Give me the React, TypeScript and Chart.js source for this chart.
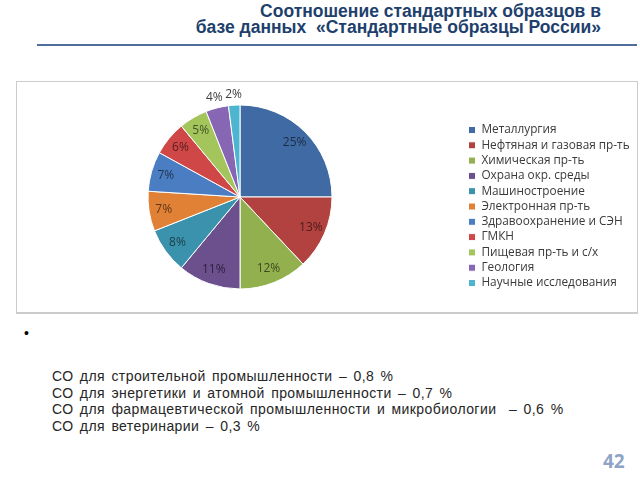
import React, { useEffect, useRef } from "react";
import { Chart, registerables } from "chart.js";

Chart.register(...registerables);

const titleLines = [
  "Соотношение стандартных образцов в",
  "базе данных  «Стандартные образцы России»",
];

const categories = [
  "Металлургия",
  "Нефтяная и газовая пр-ть",
  "Химическая пр-ть",
  "Охрана окр. среды",
  "Машиностроение",
  "Электронная пр-ть",
  "Здравоохранение и СЭН",
  "ГМКН",
  "Пищевая пр-ть и с/х",
  "Геология",
  "Научные исследования",
];

const shares = [25, 13, 12, 11, 8, 7, 7, 6, 5, 4, 2];

const sliceColors = [
  "#3F6AA3",
  "#B2423F",
  "#92B14E",
  "#6C4F8D",
  "#3B92AC",
  "#E08136",
  "#4A7DC2",
  "#CF4747",
  "#A3C55C",
  "#8766B3",
  "#4DB5CF",
];

const notes = [
  "СО для строительной промышленности – 0,8 %",
  "СО для энергетики и атомной промышленности – 0,7 %",
  "СО для фармацевтической промышленности и микробиологии  – 0,6 %",
  "СО для ветеринарии – 0,3 %",
];

const pageNumber = "42";

const LEGEND_FONT_SIZE = 11.8;
const LEGEND_FONT_FAMILY = "'Open Sans'";
const LEGEND_BOX = 7;
const LEGEND_PAD = 3.5;

function darken(hex: string, f: number): string {
  const n = parseInt(hex.slice(1), 16);
  const r = Math.round(((n >> 16) & 255) * f);
  const g = Math.round(((n >> 8) & 255) * f);
  const b = Math.round((n & 255) * f);
  return `rgb(${r},${g},${b})`;
}

const pctLabels = {
  id: "pctLabels",
  afterDatasetsDraw(chart: any) {
    const meta = chart.getDatasetMeta(0);
    const values = chart.data.datasets[0].data as number[];
    const ctx = chart.ctx as CanvasRenderingContext2D;
    ctx.save();
    ctx.font = "12px 'Open Sans'";
    ctx.textAlign = "center";
    ctx.textBaseline = "middle";
    meta.data.forEach((arc: any, i: number) => {
      const p = arc.getProps(["x", "y", "startAngle", "endAngle", "outerRadius"], true);
      const mid = (p.startAngle + p.endAngle) / 2;
      const v = values[i];
      const outside = v < 5;
      const r = p.outerRadius * (outside ? 1.12 : 0.84);
      ctx.fillStyle = outside ? "#404040" : darken(sliceColors[i], 0.42);
      ctx.fillText(v + "%", p.x + Math.cos(mid) * r, p.y + Math.sin(mid) * r);
    });
    ctx.restore();
  },
};

function PieChart() {
  const ref = useRef<HTMLCanvasElement | null>(null);
  useEffect(() => {
    const canvas = ref.current;
    if (!canvas) return;
    // legend natural width (same formula Chart.js uses) so that the legend
    // starts at x=465 and the pie area stays centred at x=240
    const mctx = document.createElement("canvas").getContext("2d")!;
    mctx.font = `${LEGEND_FONT_SIZE}px ${LEGEND_FONT_FAMILY}`;
    let maxText = 0;
    categories.forEach((c) => {
      maxText = Math.max(maxText, mctx.measureText(c).width);
    });
    const legendW = LEGEND_PAD + LEGEND_BOX + LEGEND_FONT_SIZE / 2 + maxText + 10;
    const left = 15;
    const legendLeft = 465;
    const w = Math.ceil(legendLeft - left + legendW);
    const extra = w - (legendLeft - left + legendW);
    canvas.width = w;
    canvas.height = 232;
    canvas.style.width = w + "px";
    canvas.style.height = "232px";

    const chart = new Chart(canvas, {
      type: "pie",
      data: {
        labels: categories,
        datasets: [
          {
            data: shares,
            backgroundColor: sliceColors,
            borderColor: "#ffffff",
            borderWidth: 1,
            radius: 92,
          } as any,
        ],
      },
      options: {
        responsive: false,
        animation: false,
        layout: { padding: { left: 0, right: extra, top: 0, bottom: 0 } },
        plugins: {
          legend: {
            position: "right",
            title: {
              display: true,
              text: "",
              font: { size: 10, lineHeight: 1.2 },
              padding: { top: 7, bottom: 0 },
            },
            labels: {
              boxWidth: LEGEND_BOX,
              boxHeight: LEGEND_BOX,
              padding: LEGEND_PAD,
              color: "#3a3a3a",
              font: { family: LEGEND_FONT_FAMILY, size: LEGEND_FONT_SIZE },
            },
          } as any,
          tooltip: { enabled: false },
        },
      },
      plugins: [pctLabels],
    });
    return () => chart.destroy();
  }, []);
  return (
    <canvas
      ref={ref}
      width={640}
      height={232}
      style={{ position: "absolute", left: 15, top: 81 }}
    />
  );
}

export default function App() {
  const titleStyle: React.CSSProperties = {
    position: "absolute",
    right: 39,
    textAlign: "right",
    fontFamily: "'Liberation Sans', Arial, sans-serif",
    fontWeight: "bold",
    fontSize: 17.5,
    lineHeight: "20px",
    color: "#213f6c",
    whiteSpace: "pre",
  };
  return (
    <div
      style={{
        position: "fixed",
        left: 0,
        top: 0,
        width: 640,
        height: 480,
        background: "#ffffff",
        overflow: "hidden",
      }}
    >
      <div style={{ ...titleStyle, top: 1.2 }}>{titleLines[0]}</div>
      <div style={{ ...titleStyle, top: 17.2 }}>{titleLines[1]}</div>
      <div
        style={{
          position: "absolute",
          left: 37,
          top: 44,
          width: 600,
          height: 2,
          background: "#4f6e9c",
        }}
      />
      <div
        style={{
          position: "absolute",
          left: 16,
          top: 81,
          width: 622,
          height: 233,
          boxSizing: "border-box",
          borderTop: "1px solid #cccccc",
          borderLeft: "1px solid #cccccc",
          borderRight: "1px solid #cccccc",
          borderBottom: "2px solid #cccccc",
        }}
      />
      <PieChart />
      <div
        style={{
          position: "absolute",
          left: 24,
          top: 324.5,
          fontFamily: "'Liberation Sans', Arial, sans-serif",
          fontSize: 14,
          lineHeight: "16.7px",
          color: "#000",
        }}
      >
        •
      </div>
      <div
        style={{
          position: "absolute",
          left: 52,
          top: 368,
          fontFamily: "'Liberation Sans', Arial, sans-serif",
          fontSize: 14,
          lineHeight: "16.7px",
          color: "#262626",
          whiteSpace: "pre",
          letterSpacing: 0.43,
          wordSpacing: 2,
        }}
      >
        {notes.map((t, i) => (
          <div key={i}>{t}</div>
        ))}
      </div>
      <div
        style={{
          position: "absolute",
          left: 603,
          top: 452,
          fontFamily: "'Open Sans', sans-serif",
          fontWeight: "bold",
          fontSize: 19,
          lineHeight: 1,
          color: "#8ea3c6",
        }}
      >
        {pageNumber}
      </div>
    </div>
  );
}
